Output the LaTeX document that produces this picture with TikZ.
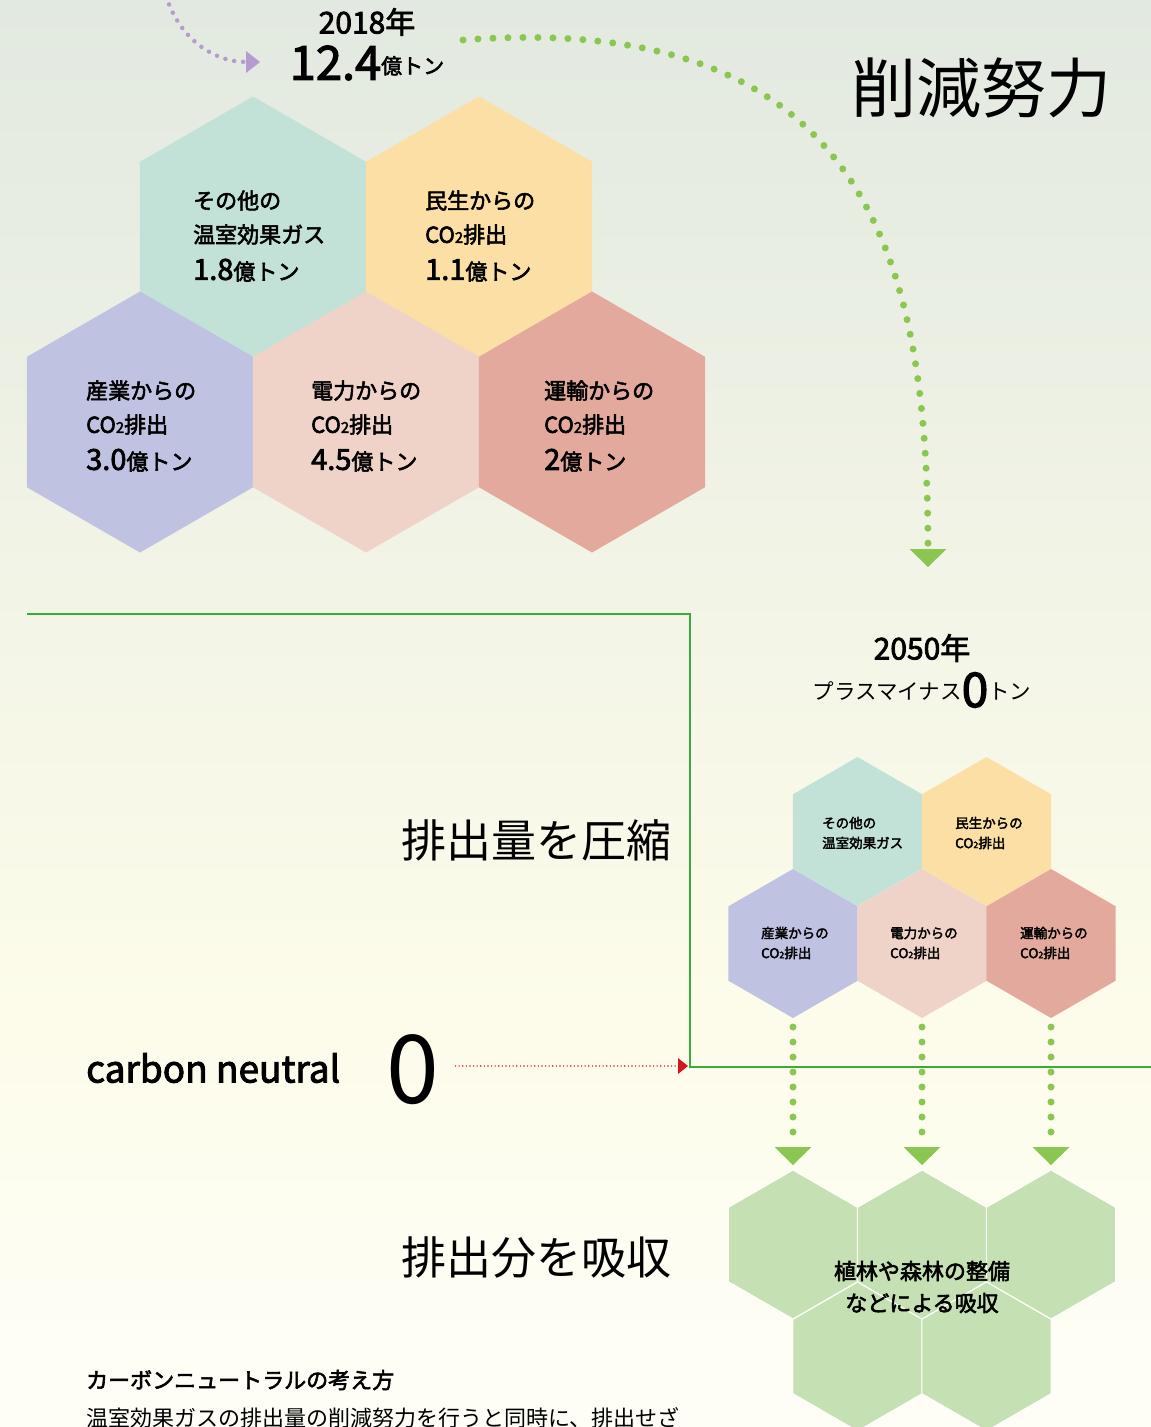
\documentclass[tikz,border=0pt]{standalone}
\usepackage{fontspec}
\setmainfont{Noto Sans CJK JP}
\newfontfamily\mediumfont[FakeBold=2.5]{Noto Sans CJK JP}
\usetikzlibrary{shapes.geometric,arrows.meta}
\definecolor{bgtop}{RGB}{226,233,224}
\definecolor{bgmid}{RGB}{253,252,234}
\definecolor{bgbot}{RGB}{254,254,247}
\definecolor{hexteal}{RGB}{194,226,216}
\definecolor{hexyellow}{RGB}{252,223,165}
\definecolor{hexpurple}{RGB}{192,194,226}
\definecolor{hexpink}{RGB}{240,211,200}
\definecolor{hexred}{RGB}{227,169,156}
\definecolor{hexgreen}{RGB}{197,224,178}
\definecolor{dotgreen}{RGB}{140,198,82}
\definecolor{linegreen}{RGB}{58,170,56}
\definecolor{dotpurple}{RGB}{180,156,206}
\definecolor{dotred}{RGB}{215,20,30}
\begin{document}
\begin{tikzpicture}[x=1pt,y=-1pt,
		bighex/.style={regular polygon,regular polygon sides=6,shape border rotate=30,inner sep=0pt,outer sep=0pt,minimum size=261pt},
		smallhex/.style={bighex,minimum size=149pt},
		greenhex/.style={smallhex,fill=hexgreen,draw=white,line width=1pt},
		biglabel/.style={anchor=west,align=left,inner sep=0pt,font=\fontsize{22}{34}\mediumfont},
		smalllabel/.style={anchor=west,align=left,inner sep=0pt,font=\fontsize{13.5}{20}\mediumfont},
		heading/.style={inner sep=0pt,font=\fontsize{45}{50}\selectfont},
		greendots/.style={dotgreen,line width=7pt,line cap=round,dash pattern=on 0pt off 15pt},
		greentip/.style={-{Triangle[width=37pt,length=18pt,line width=0pt]}}]
	\useasboundingbox (0,0) rectangle (1151,1427);
	\clip (0,0) rectangle (1151,1427);
	\shade [top color=bgtop,bottom color=bgmid] (0,0) rectangle (1151,1000);
	\shade [top color=bgmid,bottom color=bgbot] (0,1000) rectangle (1151,1427);

	\node [bighex,fill=hexteal] (teal) at (253,227) {};
	\node [bighex,fill=hexyellow] (yellow) at (479,227) {};
	\node [bighex,fill=hexpurple] (purple) at (140,422) {};
	\node [bighex,fill=hexpink] (pink) at (366,422) {};
	\node [bighex,fill=hexred] (red) at (592,422) {};
	\node [biglabel] (teallabel) at (193,236) {その他の\\温室効果ガス\\[3pt]{\fontsize{29}{34}\selectfont 1.8}億トン};
	\node [biglabel] (yellowlabel) at (425,236) {民生からの\\CO{\fontsize{15}{15}\selectfont 2}排出\\[3pt]{\fontsize{29}{34}\selectfont 1.1}億トン};
	\node [biglabel] (purplelabel) at (86,426) {産業からの\\CO{\fontsize{15}{15}\selectfont 2}排出\\[3pt]{\fontsize{29}{34}\selectfont 3.0}億トン};
	\node [biglabel] (pinklabel) at (311,426) {電力からの\\CO{\fontsize{15}{15}\selectfont 2}排出\\[3pt]{\fontsize{29}{34}\selectfont 4.5}億トン};
	\node [biglabel] (redlabel) at (544,426) {運輸からの\\CO{\fontsize{15}{15}\selectfont 2}排出\\[3pt]{\fontsize{29}{34}\selectfont 2}億トン};

	\node [inner sep=0pt,font=\fontsize{30}{30}\mediumfont] (year1) at (367,22) {2018年};
	\node [inner sep=0pt,font=\fontsize{21}{21}\mediumfont] (total1) at (367,63) {{\fontsize{47}{47}\selectfont 12.4}\raisebox{6pt}{億トン}};
	\node [inner sep=0pt,font=\fontsize{65}{65}\selectfont] (effort) at (981,88) {削減努力};

	\coordinate (trendstart) at (166,-4);
	\coordinate (trendend) at (260,62);
	\draw [dotpurple,line width=4.5pt,line cap=round,dash pattern=on 0pt off 9pt,-{Triangle[width=22pt,length=14pt,line width=0pt]}] (trendstart) .. controls (180,40) and (215,62) .. (trendend);

	\coordinate (effortstart) at (463,40);
	\coordinate (effortend) at (928,567);
	\draw [greendots,greentip] (effortstart) .. controls (860,10) and (928,250) .. (effortend);

	\node [inner sep=0pt,font=\fontsize{30}{30}\mediumfont] (year2) at (922,648) {2050年};
	\node [inner sep=0pt,font=\fontsize{21.5}{21.5}\selectfont] (total2) at (922,690) {\raisebox{8pt}{プラスマイナス}{\fontsize{48}{48}\mediumfont 0}\raisebox{8pt}{トン}};

	\node [smallhex,fill=hexteal] (steal) at (857.5,831.5) {};
	\node [smallhex,fill=hexyellow] (syellow) at (986.5,831.5) {};
	\node [smallhex,fill=hexpurple] (spurple) at (793,943.5) {};
	\node [smallhex,fill=hexpink] (spink) at (922,943.5) {};
	\node [smallhex,fill=hexred] (sred) at (1051,943.5) {};
	\node [smalllabel] (steallabel) at (822,833) {その他の\\温室効果ガス};
	\node [smalllabel] (syellowlabel) at (955,833) {民生からの\\CO{\fontsize{9}{9}\selectfont 2}排出};
	\node [smalllabel] (spurplelabel) at (761,943) {産業からの\\CO{\fontsize{9}{9}\selectfont 2}排出};
	\node [smalllabel] (spinklabel) at (890,943) {電力からの\\CO{\fontsize{9}{9}\selectfont 2}排出};
	\node [smalllabel] (sredlabel) at (1020,943) {運輸からの\\CO{\fontsize{9}{9}\selectfont 2}排出};

	\node [greenhex] (gone) at (793,1244.5) {};
	\node [greenhex] (gtwo) at (922,1244.5) {};
	\node [greenhex] (gthree) at (1051,1244.5) {};
	\node [greenhex] (gfour) at (857.5,1356.5) {};
	\node [greenhex] (gfive) at (986.5,1356.5) {};
	\node [inner sep=0pt,align=center,font=\fontsize{22}{32}\mediumfont] (forest) at (922,1287) {植林や森林の整備\\などによる吸収};

	\draw [greendots,greentip,shorten <=9pt,shorten >=5pt] (spurple.south) -- (gone.north);
	\draw [greendots,greentip,shorten <=9pt,shorten >=5pt] (spink.south) -- (gtwo.north);
	\draw [greendots,greentip,shorten <=9pt,shorten >=5pt] (sred.south) -- (gthree.north);

	\coordinate (railstart) at (27,614);
	\coordinate (railtop) at (690,614);
	\coordinate (railcorner) at (690,1067);
	\coordinate (railend) at (1151,1067);
	\draw [linegreen,line width=2.2pt] (railstart) -- (railtop) -- (railcorner) -- (railend);

	\node [heading] (compress) at (536,840) {排出量を圧縮};
	\node [heading] (absorb) at (536,1257) {排出分を吸収};
	\node [anchor=west,inner sep=0pt,font=\fontsize{37}{37}\mediumfont] (neutral) at (86,1068) {carbon neutral};
	\node [inner sep=0pt,font=\fontsize{95}{95}\selectfont] (zero) at (413,1070) {0};
	\draw [dotred,line width=1.6pt,line cap=round,dash pattern=on 0pt off 3.6pt,-{Triangle[width=16pt,length=10pt,line width=0pt]}] (zero.east) ++(16,-4) -- (688,1066);

	\node [anchor=west,inner sep=0pt,font=\fontsize{22}{22}\mediumfont] (ideatitle) at (86,1380) {カーボンニュートラルの考え方};
	\node [anchor=west,inner sep=0pt,font=\fontsize{22}{22}\selectfont] (ideatext) at (86,1418) {温室効果ガスの排出量の削減努力を行うと同時に、排出せざ};
\end{tikzpicture}
\end{document}
